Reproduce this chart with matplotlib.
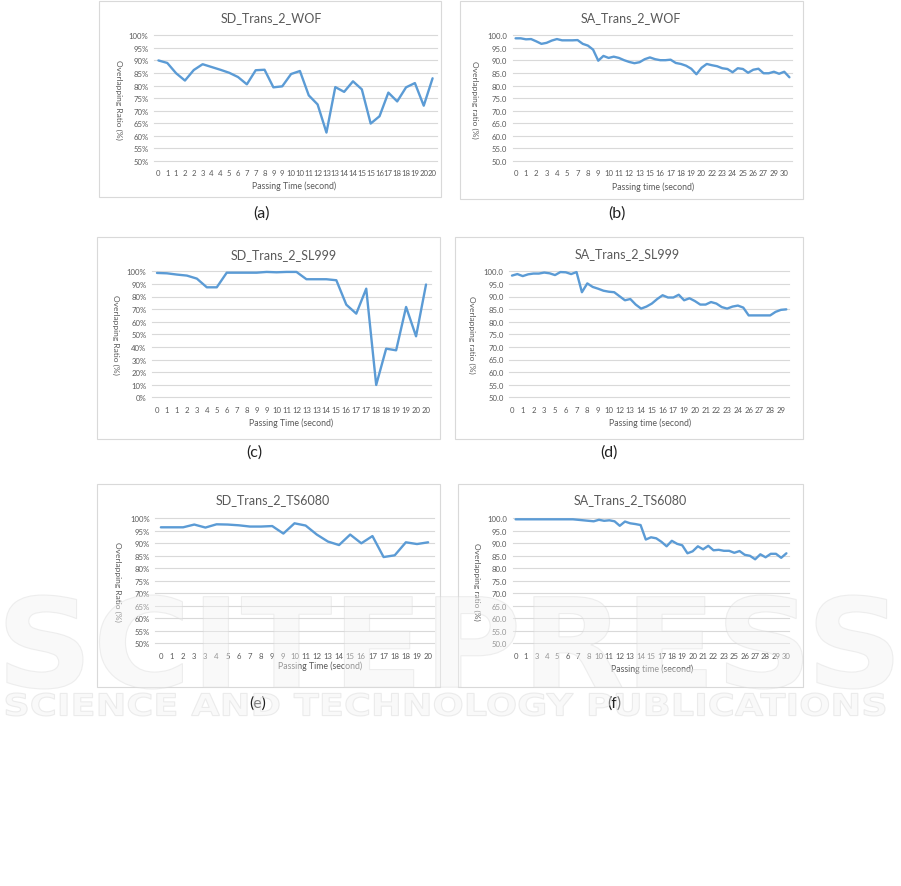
import matplotlib
matplotlib.use('Agg')
import matplotlib.pyplot as plt
from matplotlib.patches import Rectangle, PathPatch
from matplotlib.textpath import TextPath
from matplotlib.font_manager import FontProperties
from matplotlib.transforms import Affine2D
import numpy as np

W, H = 901, 887
plt.rcParams['font.family'] = ['Lato', 'DejaVu Sans']

# ---------------- data ----------------
a_labels = ['0', '1', '1', '2', '2', '3', '4', '4', '5', '6', '7', '7', '8', '9', '9', '10',
            '10', '11', '12', '13', '13', '14', '14', '15', '15', '16', '17', '18', '18', '19', '20', '20']
a_values = [90.0, 89.0, 84.9, 82.0, 86.2, 88.5, 87.4, 86.3, 85.1, 83.4, 80.5, 86.1, 86.3, 79.3, 79.7, 84.6,
            85.8, 76.1, 72.5, 61.3, 79.4, 77.5, 81.7, 78.5, 64.9, 67.8, 77.2, 73.7, 79.3, 81.0, 72.0, 82.9]

b_labels = ['0', '1', '2', '3', '4', '5', '7', '8', '9', '10', '11', '12', '13', '15', '16', '17', '18',
            '19', '20', '22', '23', '24', '25', '26', '27', '29', '30']
b_values = [98.8, 98.8, 98.4, 98.5, 97.6, 96.6, 97.0, 97.9, 98.5, 98.0, 98.0, 98.0, 98.1, 96.6, 95.9, 94.3,
            89.9, 91.8, 91.0, 91.5, 91.0, 90.1, 89.4, 88.9, 89.3, 90.5, 91.2, 90.5, 90.1, 90.1, 90.3, 89.0,
            88.6, 87.9, 86.7, 84.5, 87.1, 88.6, 88.1, 87.7, 86.9, 86.6, 85.3, 86.9, 86.6, 85.1, 86.3, 86.7,
            84.9, 84.9, 85.5, 84.7, 85.5, 83.3]

c_labels = ['0', '1', '1', '2', '3', '4', '5', '6', '7', '8', '9', '9', '10', '11', '12', '13', '13', '14',
            '15', '16', '17', '17', '18', '18', '19', '19', '20', '20']
c_values = [98.7, 98.4, 97.4, 96.6, 94.2, 87.3, 87.3, 98.9, 98.9, 98.9, 98.9, 99.5, 99.2, 99.5, 99.5, 93.7,
            93.7, 93.7, 92.9, 73.5, 66.4, 86.2, 9.8, 38.6, 37.3, 71.7, 48.4, 89.5]

d_labels = ['0', '1', '2', '3', '5', '6', '7', '8', '9', '10', '12', '13', '14', '15', '16', '17', '19',
            '20', '21', '22', '23', '24', '26', '27', '28', '29']
d_values = [98.3, 98.9, 98.1, 98.8, 99.1, 99.1, 99.5, 99.2, 98.5, 99.7, 99.6, 98.9, 99.7, 91.7, 95.2, 93.8,
            93.1, 92.3, 91.9, 91.7, 90.1, 88.5, 89.0, 86.8, 85.2, 86.0, 87.2, 89.0, 90.5, 89.6, 89.6, 90.7,
            88.5, 89.3, 88.2, 86.8, 86.8, 87.8, 87.2, 85.8, 85.2, 86.0, 86.4, 85.6, 82.5, 82.5, 82.5, 82.5,
            82.5, 83.9, 84.7, 84.9]

e_labels = ['0', '1', '2', '3', '3', '4', '5', '6', '7', '8', '9', '9', '10', '11', '12', '13', '14', '15',
            '16', '17', '17', '18', '18', '19', '20']
e_values = [96.4, 96.4, 96.4, 97.5, 96.3, 97.6, 97.5, 97.2, 96.7, 96.7, 96.9, 93.9, 98.0, 97.1, 93.5, 90.7,
            89.3, 93.5, 90.0, 92.9, 84.5, 85.2, 90.4, 89.7, 90.4]

f_labels = ['0', '1', '3', '4', '5', '6', '7', '8', '10', '11', '12', '13', '14', '15', '17', '18', '19',
            '20', '21', '22', '23', '25', '26', '27', '28', '29', '30']
f_values = [99.6, 99.6, 99.6, 99.6, 99.6, 99.6, 99.6, 99.6, 99.6, 99.6, 99.6, 99.6, 99.4, 99.2, 99.0, 98.8,
            99.4, 99.0, 99.2, 98.8, 97.0, 98.7, 98.0, 97.7, 97.3, 91.5, 92.4, 92.0, 90.6, 88.8, 91.0, 89.8,
            89.2, 86.0, 86.8, 88.8, 87.6, 89.0, 87.2, 87.4, 87.0, 87.0, 86.2, 86.9, 85.4, 85.0, 83.6, 85.6,
            84.4, 85.8, 85.8, 84.2, 86.0]

yt_50 = list(range(50, 101, 5))
yt_0 = list(range(0, 101, 10))

# ---------------- figure ----------------
fig = plt.figure(figsize=(W / 100, H / 100), dpi=100)
fig.patch.set_facecolor('white')

GRAY = '#595959'
LINE = '#5b9bd5'
GRID = '#d9d9d9'


def fx(x):
    return x / W


def fy(y):
    return 1 - y / H


def panel(box, plot, labels, values, step, ylim, yticks, yfmt, title, t_xy,
          ylabel, yl_xy, xlabel, xl_xy, letter, l_xy):
    x0, y0, x1, y1 = box
    fig.patches.append(Rectangle((fx(x0), fy(y1)), (x1 - x0) / W, (y1 - y0) / H,
                                 transform=fig.transFigure, facecolor='white',
                                 edgecolor=GRID, lw=0.8, zorder=-5))
    px0, py0, px1, py1 = plot
    ax = fig.add_axes([fx(px0), fy(py1), (px1 - px0) / W, (py1 - py0) / H], zorder=2)
    n = len(values)
    ax.plot(np.arange(n), values, color=LINE, lw=1.7, solid_joinstyle='round',
            solid_capstyle='round', zorder=3, clip_on=False)
    ax.set_xlim(-0.5, n - 0.5)
    ax.set_ylim(*ylim)
    ax.set_yticks(yticks)
    ax.set_yticklabels([yfmt(v) for v in yticks])
    ax.set_xticks(np.arange(0, n, step)[:len(labels)])
    ax.set_xticklabels(labels)
    ax.grid(axis='y', color=GRID, lw=0.8)
    ax.set_axisbelow(True)
    for s in ax.spines.values():
        s.set_visible(False)
    ax.tick_params(length=0, labelsize=5.6, colors=GRAY)
    ax.tick_params(axis='y', pad=4)
    ax.tick_params(axis='x', pad=6)
    ax.patch.set_alpha(0)
    for gl in ax.get_ygridlines():
        gl.set_clip_on(False)
    fig.text(fx(t_xy[0]), fy(t_xy[1]), title, ha='center', va='center',
             fontsize=9, color=GRAY)
    fig.text(fx(yl_xy[0]), fy(yl_xy[1]), ylabel, ha='center', va='center',
             fontsize=6, color=GRAY, rotation=270)
    fig.text(fx(xl_xy[0]), fy(xl_xy[1]), xlabel, ha='center', va='center',
             fontsize=6.3, color=GRAY)
    fig.text(fx(l_xy[0]), fy(l_xy[1]), letter, ha='center', va='center',
             fontsize=11.5, color='#222222')
    return ax


pct = lambda v: f'{v}%'
dec = lambda v: f'{v:.1f}'

panel((99, 2, 441, 198), (154, 36.3, 437, 162), a_labels, a_values, 1, (50, 100), yt_50, pct,
      'SD_Trans_2_WOF', (271.7, 18), 'Overlapping Ratio (%)', (118.7, 99.7),
      'Passing Time (second)', (294.3, 186), '(a)', (262, 214))
panel((460, 2, 803, 200), (513, 36.3, 792, 162), b_labels, b_values, 2, (50, 100), yt_50, dec,
      'SA_Trans_2_WOF', (630.5, 18), 'Overlapping ratio (%)', (474.7, 99.7),
      'Passing time (second)', (653.3, 187), '(b)', (617, 214))
panel((97, 238, 440, 440), (152, 272.3, 431, 398.3), c_labels, c_values, 1, (0, 100), yt_0, pct,
      'SD_Trans_2_SL999', (284, 254.7), 'Overlapping Ratio (%)', (115.3, 334.7),
      'Passing Time (second)', (291.3, 423), '(c)', (254, 453))
panel((455, 238, 803, 440), (509.3, 272.3, 789, 398.3), d_labels, d_values, 2, (50, 100), yt_50, dec,
      'SA_Trans_2_SL999', (627.3, 254), 'Overlapping ratio (%)', (471.7, 334.7),
      'Passing time (second)', (649.7, 423), '(d)', (609, 453))
panel((97, 485, 440, 688), (155.3, 519.3, 433.7, 644.3), e_labels, e_values, 1, (50, 100), yt_50, pct,
      'SD_Trans_2_TS6080', (272.3, 500.3), 'Overlapping Ratio (%)', (118, 581.7),
      'Passing Time (second)', (320.3, 666), '(e)', (258, 704))
panel((458, 485, 803, 688), (513, 519.3, 789, 644.3), f_labels, f_values, 2, (50, 100), yt_50, dec,
      'SA_Trans_2_TS6080', (630, 500), 'Overlapping ratio (%)', (476.3, 581.7),
      'Passing time (second)', (651.7, 669.3), '(f)', (614, 704))

# ---------------- watermark ----------------
ov = fig.add_axes([0, 0, 1, 1], zorder=20)
ov.set_xlim(0, W)
ov.set_ylim(0, H)
ov.axis('off')
ov.patch.set_alpha(0)


def fit_text(s, x0, y0, x1, y1, fc, ec, alpha):
    tp = TextPath((0, 0), s, size=1, prop=FontProperties(family='DejaVu Sans', weight='bold'))
    ext = tp.get_extents()
    tr = (Affine2D().translate(-ext.x0, -ext.y0)
          .scale((x1 - x0) / ext.width, (y1 - y0) / ext.height)
          .translate(x0, H - y1))
    ov.add_patch(PathPatch(tr.transform_path(tp), facecolor=fc, edgecolor=ec,
                           lw=0.8, alpha=alpha))


fit_text('SCITEPRESS', 6, 596, 893, 690, '#f2f2f2', '#d8d8d8', 0.4)
fit_text('SCIENCE AND TECHNOLOGY PUBLICATIONS', 6, 694, 885, 717, '#f2f2f2', '#d8d8d8', 0.45)

fig.savefig('out.png', dpi=100, facecolor='white')
